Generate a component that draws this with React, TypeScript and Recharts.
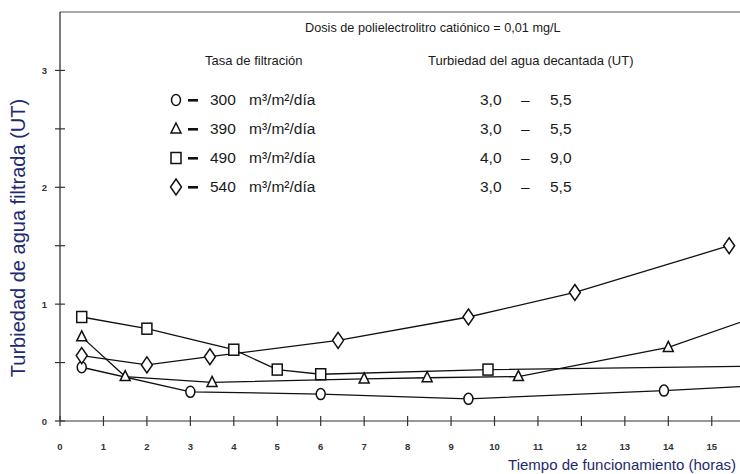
import React from 'react';
import { LineChart, Line, XAxis, YAxis, ReferenceLine } from 'recharts';

// horas de funcionamiento / turbiedad del agua filtrada (UT)
const hours300 = [0.5, 3, 6, 9.4, 13.9, 16];
const turb300 = [0.46, 0.25, 0.23, 0.19, 0.26, 0.3];

const hours390 = [0.5, 1.5, 3.5, 7, 8.45, 10.55, 14, 16];
const turb390 = [0.72, 0.38, 0.33, 0.36, 0.37, 0.38, 0.63, 0.89];

const hours490 = [0.5, 2, 4, 5, 6, 9.85, 16];
const turb490 = [0.89, 0.79, 0.61, 0.44, 0.4, 0.44, 0.47];

const hours540 = [0.5, 2, 3.45, 6.4, 9.4, 11.85, 15.4];
const turb540 = [0.56, 0.48, 0.55, 0.69, 0.89, 1.1, 1.5];

const xTicks = [0, 1, 2, 3, 4, 5, 6, 7, 8, 9, 10, 11, 12, 13, 14, 15];
const yTicks = [0, 0.5, 1, 1.5, 2, 2.5, 3];

const legendRates = ['300', '390', '490', '540'];
const legendLow = ['3,0', '3,0', '4,0', '3,0'];
const legendHigh = ['5,5', '5,5', '9,0', '5,5'];
const legendShapes = ['circle', 'triangle', 'square', 'diamond'];

const toPoints = (xs: number[], ys: number[]) => xs.map((h, i) => ({ h, t: ys[i] }));

const FONT = '"Liberation Sans", Arial, sans-serif';
const INK = '#1a1a1a';
const NAVY = '#1e2a6e';

function Marker({ kind, cx, cy }: { kind: string; cx: number; cy: number }) {
    const common = { fill: '#fff', stroke: '#111', strokeWidth: 1.5 };
    if (kind === 'circle') return <ellipse cx={cx} cy={cy} rx={4.5} ry={5.5} {...common} />;
    if (kind === 'triangle')
        return <polygon points={`${cx},${cy - 6} ${cx + 5},${cy + 4} ${cx - 5},${cy + 4}`} {...common} />;
    if (kind === 'square') return <rect x={cx - 5} y={cy - 5.5} width={10} height={11} {...common} />;
    return <polygon points={`${cx},${cy - 8} ${cx + 5.5},${cy} ${cx},${cy + 8} ${cx - 5.5},${cy}`} {...common} />;
}

const makeDot = (kind: string) => (props: any) => {
    const { cx, cy, index } = props;
    if (cx == null || cy == null) return <g key={`${kind}-${index}`} />;
    return (
        <g key={`${kind}-${index}`}>
            <Marker kind={kind} cx={cx} cy={cy} />
        </g>
    );
};

const YTick = (props: any) => {
    const { x, y, payload } = props;
    return (
        <g>
            <line x1={x - 5} x2={x + 5} y1={y} y2={y} stroke="#333" strokeWidth={1.2} />
            {Number.isInteger(payload.value) && (
                <text x={x - 13} y={y} dy={3.5} textAnchor="end" fontSize={9.5} fontWeight="bold" fill="#333" fontFamily={FONT}>
                    {payload.value}
                </text>
            )}
        </g>
    );
};

const XTick = (props: any) => {
    const { x, y, payload } = props;
    return (
        <g>
            <line x1={x} x2={x} y1={y - 5} y2={y + 5} stroke="#333" strokeWidth={1.2} />
            <text x={x} y={y + 29} textAnchor="middle" fontSize={9.5} fontWeight="bold" fill="#333" fontFamily={FONT}>
                {payload.value}
            </text>
        </g>
    );
};

const txt = (left: number, center: number, size: number, extra: React.CSSProperties = {}) => ({
    position: 'absolute' as const,
    left,
    top: center - size * 0.49,
    fontSize: size,
    lineHeight: 1,
    whiteSpace: 'nowrap' as const,
    color: INK,
    ...extra,
});

export default function App() {
    const rows = [100, 129, 158, 187];
    return (
        <div style={{ position: 'relative', width: 740, height: 474, background: '#fff', fontFamily: FONT }}>
            <style>{`body{margin:0}`}</style>
            <LineChart width={740} height={474} margin={{ top: 12, right: 0, left: 0, bottom: 0 }}>
                <XAxis
                    dataKey="h"
                    type="number"
                    domain={[0, 15.65]}
                    allowDataOverflow
                    ticks={xTicks}
                    interval={0}
                    height={53}
                    tickSize={0}
                    tickMargin={0}
                    tickLine={false}
                    tick={<XTick />}
                    axisLine={{ stroke: '#333', strokeWidth: 1.2 }}
                />
                <YAxis
                    type="number"
                    domain={[0, 3.5]}
                    allowDataOverflow
                    ticks={yTicks}
                    interval={0}
                    width={60}
                    tickSize={0}
                    tickMargin={0}
                    tickLine={false}
                    tick={<YTick />}
                    axisLine={{ stroke: '#222', strokeWidth: 1.2 }}
                />
                <ReferenceLine y={3.5} stroke="#555" strokeWidth={1.2} />
                <Line data={toPoints(hours300, turb300)} dataKey="t" stroke="#111" strokeWidth={1.3} dot={makeDot('circle')} isAnimationActive={false} />
                <Line data={toPoints(hours390, turb390)} dataKey="t" stroke="#111" strokeWidth={1.3} dot={makeDot('triangle')} isAnimationActive={false} />
                <Line data={toPoints(hours490, turb490)} dataKey="t" stroke="#111" strokeWidth={1.3} dot={makeDot('square')} isAnimationActive={false} />
                <Line data={toPoints(hours540, turb540)} dataKey="t" stroke="#111" strokeWidth={1.3} dot={makeDot('diamond')} isAnimationActive={false} />
            </LineChart>

            <div style={txt(305, 28, 12.7)}>Dosis de polielectrolitro catiónico = 0,01 mg/L</div>
            <div style={txt(205, 60, 13)}>Tasa de filtración</div>
            <div style={txt(428, 60, 13)}>Turbiedad del agua decantada (UT)</div>

            {rows.map((cy, i) => (
                <React.Fragment key={legendRates[i]}>
                    <svg style={{ position: 'absolute', left: 160, top: cy - 12 }} width={45} height={24}>
                        <Marker kind={legendShapes[i]} cx={16} cy={12} />
                        <rect x={28} y={11} width={10} height={2.6} fill="#111" />
                    </svg>
                    <div style={txt(210, cy, 15.5)}>{legendRates[i]}</div>
                    <div style={txt(249, cy, 15.5)}>m³/m²/día</div>
                    <div style={txt(480, cy, 15.5)}>{legendLow[i]}</div>
                    <div style={txt(521, cy, 15.5)}>–</div>
                    <div style={txt(550, cy, 15.5)}>{legendHigh[i]}</div>
                </React.Fragment>
            ))}

            <div style={txt(0, 464, 15, { left: undefined, right: 4, color: NAVY })}>Tiempo de funcionamiento (horas)</div>
            <div
                style={{
                    position: 'absolute',
                    left: 18,
                    top: 238,
                    fontSize: 20,
                    lineHeight: 1,
                    whiteSpace: 'nowrap',
                    color: NAVY,
                    transform: 'translate(-50%, -50%) rotate(-90deg)',
                }}
            >
                Turbiedad de agua filtrada (UT)
            </div>
        </div>
    );
}
